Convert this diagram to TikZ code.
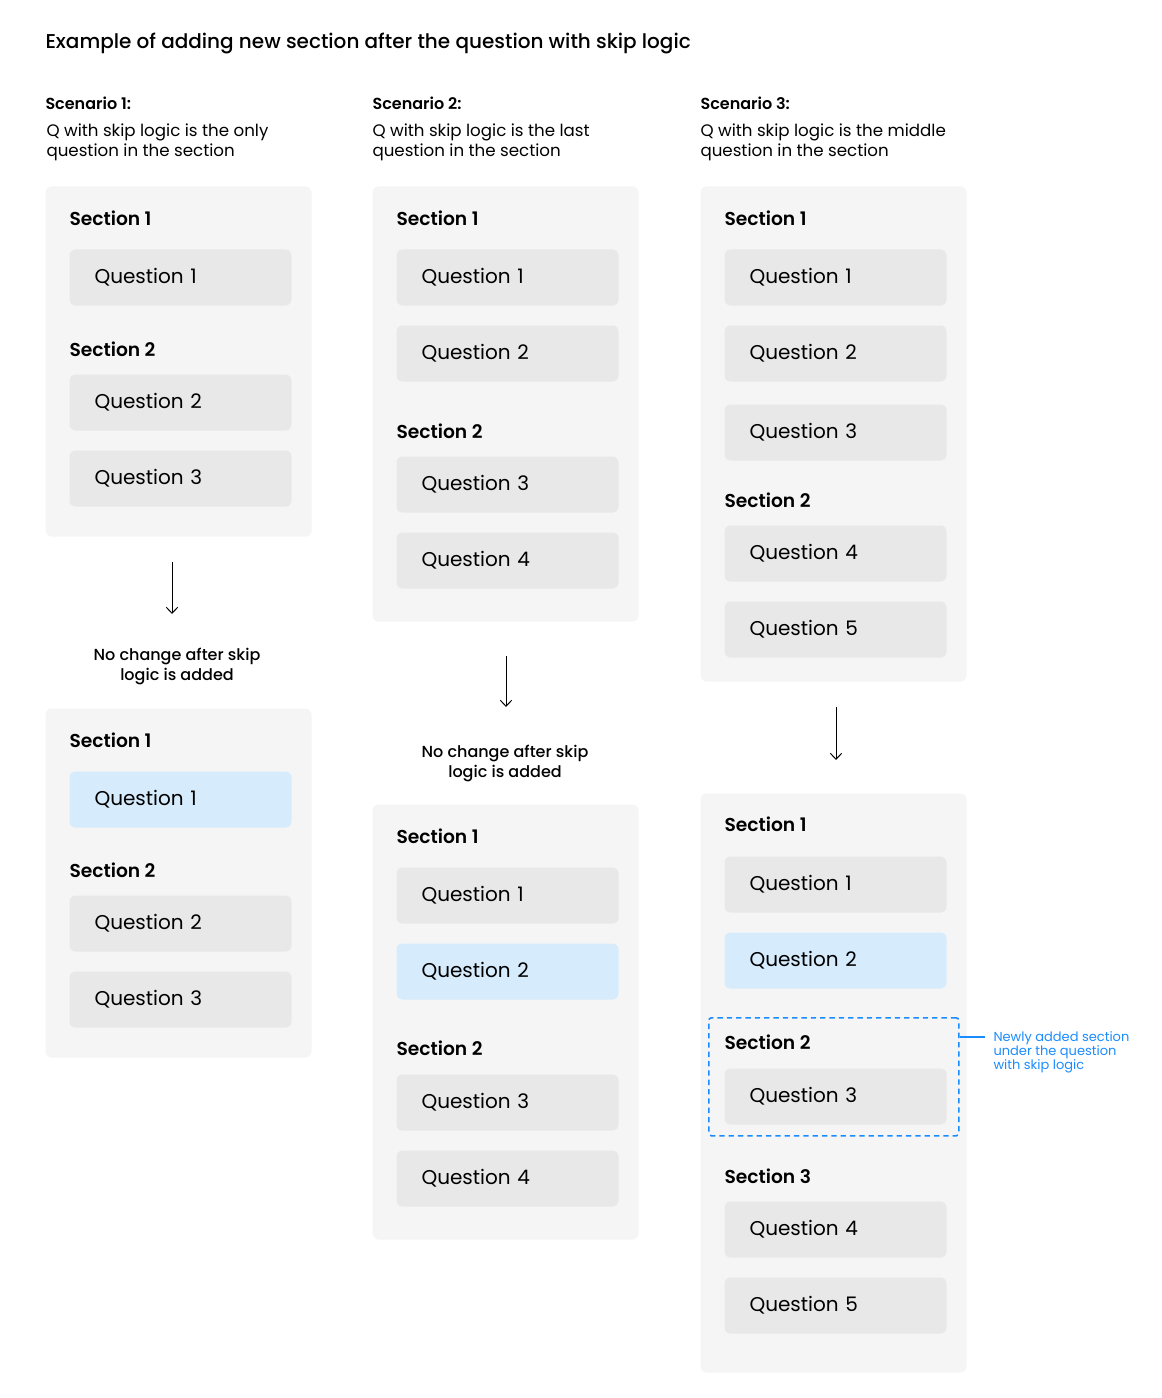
\documentclass[tikz,border=0pt]{standalone}
\usepackage{fontspec}
\setmainfont{Poppins}
\newfontfamily\popmed{Poppins Medium}
\newfontfamily\popsemi{Poppins SemiBold}
\usetikzlibrary{arrows.meta}

\definecolor{panelgray}{HTML}{F5F5F5}
\definecolor{qgray}{HTML}{E8E8E8}
\definecolor{qblue}{HTML}{D6EBFC}
\definecolor{noteblue}{HTML}{1A8CFF}

\tikzset{every picture/.style={line width=0.75pt},
  panel/.style={fill=panelgray, rounded corners=4.5pt, anchor=north west, minimum width=199.5pt, inner sep=0pt},
  qbox/.style={fill=qgray, rounded corners=4.5pt, anchor=north west, minimum height=42pt, text width=129pt, inner xsep=18.75pt, inner ysep=0pt, align=left, font=\fontsize{15}{18}\selectfont},
  qsel/.style={qbox, fill=qblue},
  seclabel/.style={anchor=west, inner sep=0pt, font=\fontsize{14}{17}\selectfont\popsemi},
  scenlabel/.style={anchor=west, inner sep=0pt, font=\fontsize{12}{15}\selectfont\popsemi},
  scendesc/.style={anchor=west, inner sep=0pt, align=left, font=\fontsize{12.5}{15}\selectfont},
  changetext/.style={inner sep=0pt, align=center, font=\fontsize{12}{15}\selectfont\popmed},
  flow/.style={-{Straight Barb[length=4.5pt,width=8.5pt]}, line width=0.75pt},
  newsec/.style={draw=noteblue, line width=1.2pt, dash pattern={on 4pt off 3pt}, rounded corners=2pt, anchor=north west, minimum width=187.5pt, minimum height=88.5pt, inner sep=0pt},
  notetext/.style={anchor=north west, inner sep=0pt, align=left, text=noteblue, font=\fontsize{9.75}{10.5}\selectfont}
}

\begin{document}
\begin{tikzpicture}[x=0.75pt,y=0.75pt,yscale=-1,xscale=1]
\useasboundingbox (0,0) rectangle (1162,1398);

% Title
\node [anchor=west, inner sep=0pt, font=\fontsize{15}{18}\selectfont\popmed] (title) at (45,44) {Example of adding new section after the question with skip logic};

% Scenario headers
\node [scenlabel] (h1) at (45,103) {Scenario 1:};
\node [scendesc] (d1) at (46,142) {Q with skip logic is the only\\question in the section};
\node [scenlabel] (h2) at (372,103) {Scenario 2:};
\node [scendesc] (d2) at (372,142) {Q with skip logic is the last\\question in the section};
\node [scenlabel] (h3) at (700,103) {Scenario 3:};
\node [scendesc] (d3) at (700,142) {Q with skip logic is the middle\\question in the section};

%Scenario 1: before
\node [panel, minimum height=262.5pt] (p1a) at (45,186) {};
\node [seclabel] (s1a1) at (69,218) {Section 1};
\node [qbox] (q1a1) at (69,249) {Question 1};
\node [seclabel] (s1a2) at (69,349) {Section 2};
\node [qbox] (q1a2) at (69,374) {Question 2};
\node [qbox] (q1a3) at (69,450) {Question 3};

\coordinate (a1s) at (172,562);
\coordinate (a1e) at (172,614);
\draw [flow] (a1s) -- (a1e);
\node [changetext] (c1) at (177,666) {No change after skip\\logic is added};

%Scenario 1: after
\node [panel, minimum height=261.75pt] (p1b) at (45,708) {};
\node [seclabel] (s1b1) at (69,740) {Section 1};
\node [qsel] (q1b1) at (69,771) {Question 1};
\node [seclabel] (s1b2) at (69,870) {Section 2};
\node [qbox] (q1b2) at (69,895) {Question 2};
\node [qbox] (q1b3) at (69,971) {Question 3};

%Scenario 2: before
\node [panel, minimum height=326.25pt] (p2a) at (372,186) {};
\node [seclabel] (s2a1) at (396,218) {Section 1};
\node [qbox] (q2a1) at (396,249) {Question 1};
\node [qbox] (q2a2) at (396,325) {Question 2};
\node [seclabel] (s2a2) at (396,431) {Section 2};
\node [qbox] (q2a3) at (396,456) {Question 3};
\node [qbox] (q2a4) at (396,532) {Question 4};

\coordinate (a2s) at (506,656);
\coordinate (a2e) at (506,707);
\draw [flow] (a2s) -- (a2e);
\node [changetext] (c2) at (505,763) {No change after skip\\logic is added};

%Scenario 2: after
\node [panel, minimum height=326.25pt] (p2b) at (372,804) {};
\node [seclabel] (s2b1) at (396,836) {Section 1};
\node [qbox] (q2b1) at (396,867) {Question 1};
\node [qsel] (q2b2) at (396,943) {Question 2};
\node [seclabel] (s2b2) at (396,1048) {Section 2};
\node [qbox] (q2b3) at (396,1074) {Question 3};
\node [qbox] (q2b4) at (396,1150) {Question 4};

%Scenario 3: before
\node [panel, minimum height=371.25pt] (p3a) at (700,186) {};
\node [seclabel] (s3a1) at (724,218) {Section 1};
\node [qbox] (q3a1) at (724,249) {Question 1};
\node [qbox] (q3a2) at (724,325) {Question 2};
\node [qbox] (q3a3) at (724,404) {Question 3};
\node [seclabel] (s3a2) at (724,500) {Section 2};
\node [qbox] (q3a4) at (724,525) {Question 4};
\node [qbox] (q3a5) at (724,601) {Question 5};

\coordinate (a3s) at (836,707);
\coordinate (a3e) at (836,760);
\draw [flow] (a3s) -- (a3e);

%Scenario 3: after
\node [panel, minimum height=434.25pt] (p3b) at (700,793) {};
\node [seclabel] (s3b1) at (724,824) {Section 1};
\node [qbox] (q3b1) at (724,856) {Question 1};
\node [qsel] (q3b2) at (724,932) {Question 2};
\node [newsec] (new3) at (708,1017) {};
\node [seclabel] (s3b2) at (724,1042) {Section 2};
\node [qbox] (q3b3) at (724,1068) {Question 3};
\node [seclabel] (s3b3) at (724,1176) {Section 3};
\node [qbox] (q3b4) at (724,1201) {Question 4};
\node [qbox] (q3b5) at (724,1277) {Question 5};

% Note
\node [notetext] (note) at (993,1031) {Newly added section\\under the question\\with skip logic};
\coordinate (n3) at (985,1037);
\draw [noteblue, line width=1.2pt] (new3.east |- n3) -- (n3);

\end{tikzpicture}
\end{document}
